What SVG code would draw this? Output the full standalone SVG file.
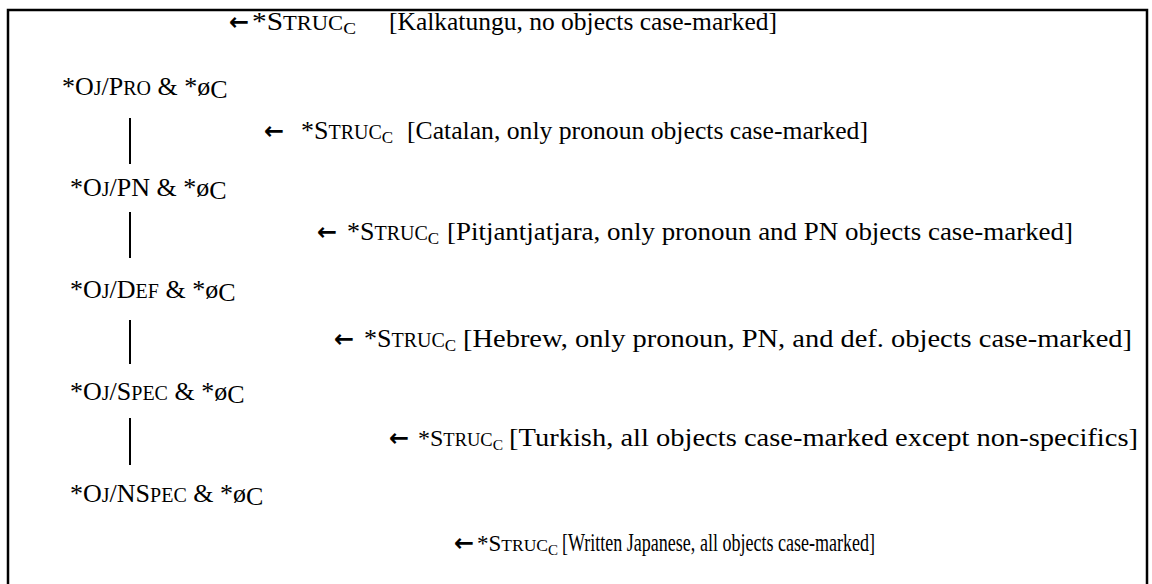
<svg xmlns="http://www.w3.org/2000/svg" width="1152" height="584" viewBox="0 0 1152 584" font-family="'Liberation Serif', Tinos, 'Times New Roman', 'Nimbus Roman', 'DejaVu Serif', serif">
<style>
text{font-family:"Liberation Serif",Tinos,"Times New Roman","Nimbus Roman","DejaVu Serif",serif;font-size:26px;fill:#000}
.sc{font-size:20px}
.sub{font-size:17px}
.s24{font-size:24px}
.s24 .sc{font-size:18.5px}
.s24 .sub{font-size:15.5px}
.s22{font-size:23px}
.s22 .sc{font-size:17.5px}
.s22 .sub{font-size:15px}
.arr{font-family:"DejaVu Sans",sans-serif;font-size:24px;font-weight:bold}
.conn line{stroke:#000;stroke-width:2}
</style>
<rect width="1152" height="584" fill="#fff"/>
<path d="M8,600 V10 H1147 V600" fill="none" stroke="#000" stroke-width="2.5"/>
<g id="hierarchy">
<g id="n-pro"><text x="62" y="95">*O<tspan class="sc">J</tspan>/P<tspan class="sc">RO</tspan> &amp; *ø<tspan dy="3">C</tspan></text></g>
<g id="n-pn"><text x="70" y="196">*O<tspan class="sc">J</tspan>/PN &amp; *ø<tspan dy="3">C</tspan></text></g>
<g id="n-def"><text x="70" y="298">*O<tspan class="sc">J</tspan>/D<tspan class="sc">EF</tspan> &amp; *ø<tspan dy="3">C</tspan></text></g>
<g id="n-spec"><text x="70" y="400">*O<tspan class="sc">J</tspan>/S<tspan class="sc">PEC</tspan> &amp; *ø<tspan dy="3">C</tspan></text></g>
<g id="n-nspec"><text x="70" y="502">*O<tspan class="sc">J</tspan>/NS<tspan class="sc">PEC</tspan> &amp; *ø<tspan dy="3">C</tspan></text></g>
</g>
<g id="rankings">
<g id="r-kalkatungu"><text class="arr" x="229" y="30">←</text><text x="252" y="30" textLength="104" lengthAdjust="spacingAndGlyphs">*S<tspan class="sc">TRUC</tspan><tspan class="sub" dy="4">C</tspan></text><text x="389" y="30" textLength="388" lengthAdjust="spacingAndGlyphs">[Kalkatungu, no objects case-marked]</text></g>
<g id="r-catalan"><text class="arr" x="264" y="139">←</text><text x="301" y="139">*S<tspan class="sc">TRUC</tspan><tspan class="sub" dy="4">C</tspan></text><text x="407" y="139" textLength="461" lengthAdjust="spacingAndGlyphs">[Catalan, only pronoun objects case-marked]</text></g>
<g id="r-pitjantjatjara"><text class="arr" x="317" y="240">←</text><text x="347" y="240">*S<tspan class="sc">TRUC</tspan><tspan class="sub" dy="4">C</tspan></text><text x="447" y="240" textLength="626" lengthAdjust="spacingAndGlyphs">[Pitjantjatjara, only pronoun and PN objects case-marked]</text></g>
<g id="r-hebrew"><text class="arr" x="334" y="347">←</text><text x="364" y="347">*S<tspan class="sc">TRUC</tspan><tspan class="sub" dy="4">C</tspan></text><text x="463" y="347" textLength="669" lengthAdjust="spacingAndGlyphs">[Hebrew, only pronoun, PN, and def. objects case-marked]</text></g>
<g id="r-turkish"><text class="arr" x="389" y="446">←</text><text class="s24" x="418" y="446">*S<tspan class="sc">TRUC</tspan><tspan class="sub" dy="4">C</tspan></text><text x="509" y="446" textLength="629" lengthAdjust="spacingAndGlyphs">[Turkish, all objects case-marked except non-specifics]</text></g>
<g id="r-japanese"><text class="arr" x="454" y="551">←</text><text class="s22" x="477" y="551">*S<tspan class="sc">TRUC</tspan><tspan class="sub" dy="4">C</tspan></text><text x="562" y="551" textLength="313" lengthAdjust="spacingAndGlyphs">[Written Japanese,  all objects case-marked]</text></g>
</g>
<g id="connectors" class="conn">
<line x1="130" y1="118" x2="130" y2="164"/>
<line x1="130" y1="212" x2="130" y2="258"/>
<line x1="130" y1="320" x2="130" y2="364"/>
<line x1="130" y1="418" x2="130" y2="465"/>
</g>
</svg>
